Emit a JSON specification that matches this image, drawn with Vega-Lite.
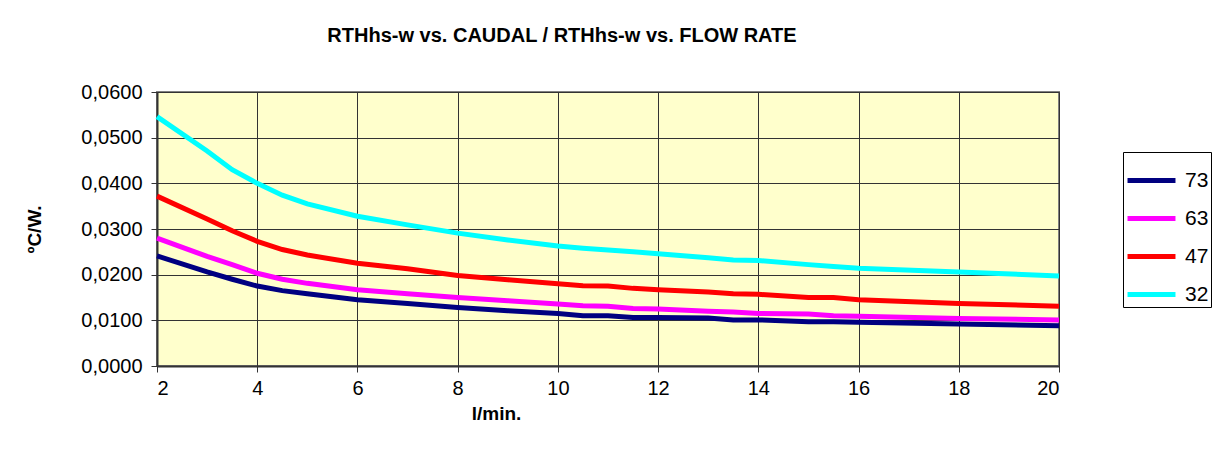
{
  "$schema": "https://vega.github.io/schema/vega-lite/v6.json",
  "autosize": "none",
  "width": 902,
  "height": 274,
  "padding": {"left": 157, "top": 92, "right": 160, "bottom": 110},
  "background": "white",
  "title": {
    "text": "RTHhs-w vs. CAUDAL / RTHhs-w vs. FLOW RATE",
    "font": "Liberation Sans",
    "fontSize": 20,
    "fontWeight": "bold",
    "color": "black",
    "anchor": "middle",
    "dx": -46,
    "offset": 36
  },
  "data": {"values": [
    {"q":2,"r":0.0241,"t":"73"},{"q":3,"r":0.0206,"t":"73"},{"q":3.5,"r":0.0190,"t":"73"},{"q":4,"r":0.0175,"t":"73"},{"q":4.5,"r":0.0165,"t":"73"},{"q":5,"r":0.0158,"t":"73"},{"q":6,"r":0.0145,"t":"73"},{"q":7,"r":0.0137,"t":"73"},{"q":8,"r":0.0128,"t":"73"},{"q":9,"r":0.0121,"t":"73"},{"q":10,"r":0.0115,"t":"73"},{"q":10.5,"r":0.0110,"t":"73"},{"q":11,"r":0.0110,"t":"73"},{"q":11.5,"r":0.0106,"t":"73"},{"q":12,"r":0.0106,"t":"73"},{"q":13,"r":0.0105,"t":"73"},{"q":13.5,"r":0.0101,"t":"73"},{"q":14,"r":0.0101,"t":"73"},{"q":15,"r":0.0097,"t":"73"},{"q":15.5,"r":0.0097,"t":"73"},{"q":16,"r":0.0096,"t":"73"},{"q":18,"r":0.0092,"t":"73"},{"q":20,"r":0.0088,"t":"73"},
    {"q":2,"r":0.0280,"t":"63"},{"q":3,"r":0.0240,"t":"63"},{"q":3.5,"r":0.0222,"t":"63"},{"q":4,"r":0.0203,"t":"63"},{"q":4.5,"r":0.0190,"t":"63"},{"q":5,"r":0.0181,"t":"63"},{"q":6,"r":0.0167,"t":"63"},{"q":7,"r":0.0158,"t":"63"},{"q":8,"r":0.0150,"t":"63"},{"q":9,"r":0.0143,"t":"63"},{"q":10,"r":0.0136,"t":"63"},{"q":10.5,"r":0.0132,"t":"63"},{"q":11,"r":0.0131,"t":"63"},{"q":11.5,"r":0.0126,"t":"63"},{"q":12,"r":0.0125,"t":"63"},{"q":13,"r":0.0120,"t":"63"},{"q":13.5,"r":0.0118,"t":"63"},{"q":14,"r":0.0115,"t":"63"},{"q":15,"r":0.0114,"t":"63"},{"q":15.5,"r":0.0110,"t":"63"},{"q":16,"r":0.0109,"t":"63"},{"q":18,"r":0.0104,"t":"63"},{"q":20,"r":0.0101,"t":"63"},
    {"q":2,"r":0.0372,"t":"47"},{"q":3,"r":0.0322,"t":"47"},{"q":3.5,"r":0.0296,"t":"47"},{"q":4,"r":0.0273,"t":"47"},{"q":4.5,"r":0.0255,"t":"47"},{"q":5,"r":0.0243,"t":"47"},{"q":6,"r":0.0225,"t":"47"},{"q":7,"r":0.0213,"t":"47"},{"q":8,"r":0.0198,"t":"47"},{"q":9,"r":0.0189,"t":"47"},{"q":10,"r":0.0180,"t":"47"},{"q":10.5,"r":0.0176,"t":"47"},{"q":11,"r":0.0175,"t":"47"},{"q":11.5,"r":0.0170,"t":"47"},{"q":12,"r":0.0167,"t":"47"},{"q":13,"r":0.0162,"t":"47"},{"q":13.5,"r":0.0158,"t":"47"},{"q":14,"r":0.0157,"t":"47"},{"q":15,"r":0.0150,"t":"47"},{"q":15.5,"r":0.0150,"t":"47"},{"q":16,"r":0.0145,"t":"47"},{"q":18,"r":0.0137,"t":"47"},{"q":20,"r":0.0131,"t":"47"},
    {"q":2,"r":0.0546,"t":"32"},{"q":3,"r":0.0471,"t":"32"},{"q":3.5,"r":0.0430,"t":"32"},{"q":4,"r":0.0400,"t":"32"},{"q":4.5,"r":0.0374,"t":"32"},{"q":5,"r":0.0355,"t":"32"},{"q":6,"r":0.0328,"t":"32"},{"q":7,"r":0.0309,"t":"32"},{"q":8,"r":0.0291,"t":"32"},{"q":9,"r":0.0276,"t":"32"},{"q":10,"r":0.0263,"t":"32"},{"q":10.5,"r":0.0258,"t":"32"},{"q":11,"r":0.0254,"t":"32"},{"q":11.5,"r":0.0250,"t":"32"},{"q":12,"r":0.0246,"t":"32"},{"q":13,"r":0.0237,"t":"32"},{"q":13.5,"r":0.0232,"t":"32"},{"q":14,"r":0.0231,"t":"32"},{"q":15,"r":0.0222,"t":"32"},{"q":15.5,"r":0.0218,"t":"32"},{"q":16,"r":0.0214,"t":"32"},{"q":18,"r":0.0206,"t":"32"},{"q":20,"r":0.0197,"t":"32"}
  ]},
  "mark": {"type": "line", "strokeWidth": 5, "interpolate": "linear"},
  "encoding": {
    "x": {
      "field": "q", "type": "quantitative",
      "scale": {"domain": [2, 20], "nice": false, "zero": false},
      "axis": {
        "values": [2,4,6,8,10,12,14,16,18,20],
        "title": "l/min.",
        "titleX": 339,
        "titleAnchor": "middle",
        "titlePadding": 6
      }
    },
    "y": {
      "field": "r", "type": "quantitative",
      "scale": {"domain": [0, 0.06], "nice": false},
      "axis": {
        "values": [0,0.01,0.02,0.03,0.04,0.05,0.06],
        "labelExpr": "replace(format(datum.value, '.4f'), '.', ',')",
        "title": "ºC/W.",
        "titlePadding": 36,
        "labelPadding": 9
      }
    },
    "color": {
      "field": "t", "type": "nominal",
      "scale": {"domain": ["73","63","47","32"], "range": ["#000080","#FF00FF","#FF0000","#00FFFF"]},
      "legend": {
        "title": null,
        "orient": "none",
        "legendX": 966,
        "legendY": 60,
        "symbolType": "stroke",
        "symbolStrokeWidth": 5,
        "symbolSize": 2300,
        "labelFontSize": 21,
        "labelFont": "Liberation Sans",
        "labelColor": "black",
        "rowPadding": 1,
        "padding": 2,
        "strokeColor": "black",
        "fillColor": "white",
        "labelOffset": 7
      }
    }
  },
  "config": {
    "view": {"fill": "#FFFFCC", "stroke": "#808080", "strokeWidth": 2},
    "axis": {
      "labelFont": "Liberation Sans",
      "labelFontSize": 20,
      "labelColor": "black",
      "titleFont": "Liberation Sans",
      "titleFontSize": 19,
      "titleFontWeight": "bold",
      "titleColor": "black",
      "grid": true,
      "gridColor": "#333333",
      "gridWidth": 1,
      "domainColor": "#333333",
      "domainWidth": 2,
      "tickColor": "#333333",
      "tickSize": 6,
      "labelPadding": 6
    }
  }
}
